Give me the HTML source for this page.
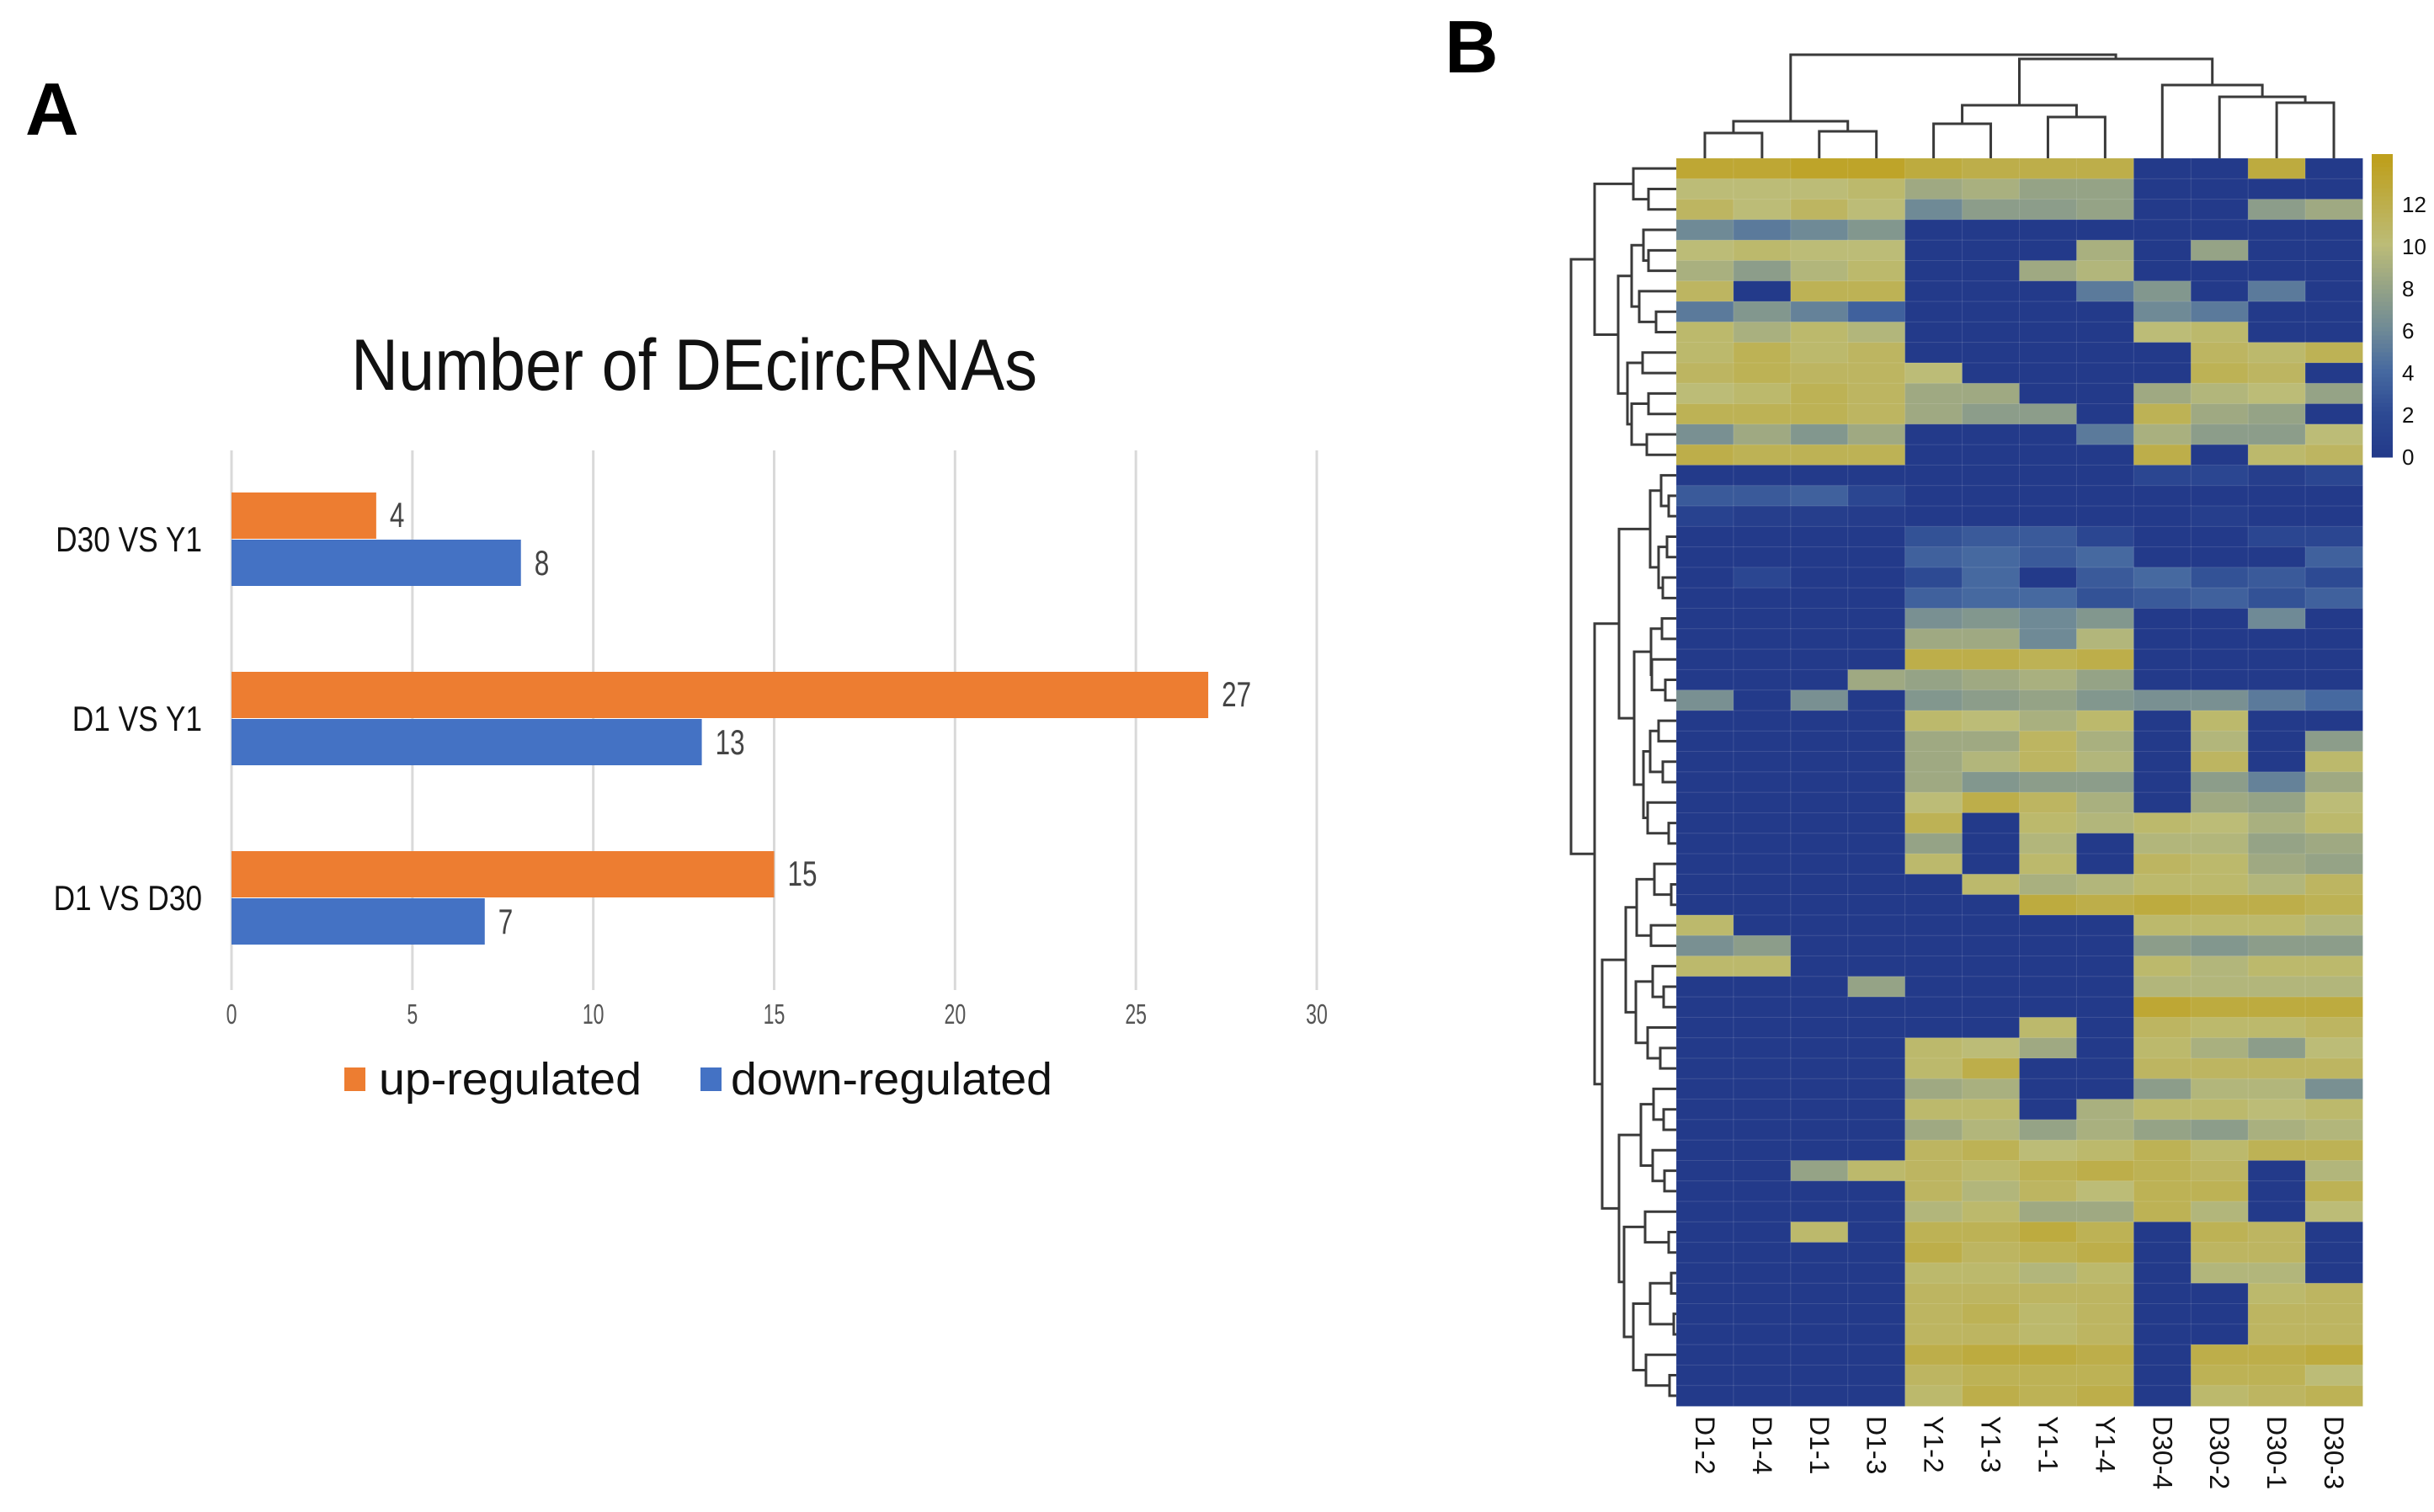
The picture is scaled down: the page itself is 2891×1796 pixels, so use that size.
<!DOCTYPE html>
<html><head><meta charset="utf-8"><style>
html,body{margin:0;padding:0;background:#fff;}
svg{display:block;font-family:"Liberation Sans",sans-serif;}
</style></head><body>
<svg id="fig" width="2891" height="1796" viewBox="0 0 2891 1796" xmlns="http://www.w3.org/2000/svg">
<rect width="2891" height="1796" fill="#fff"/>
<text x="30" y="160" font-size="88" font-weight="bold" fill="#000">A</text>
<text x="1716" y="86" font-size="88" font-weight="bold" fill="#000">B</text>
<text x="417" y="463" font-size="86" textLength="815" lengthAdjust="spacingAndGlyphs" fill="#111">Number of DEcircRNAs</text>
<g id="bars"></g>
<g id="legend">
  <rect x="409" y="1268" width="25" height="28" fill="#ed7d31"/>
  <text x="450" y="1300" font-size="54" textLength="312" lengthAdjust="spacingAndGlyphs" fill="#111">up-regulated</text>
  <rect x="832" y="1268" width="25" height="28" fill="#4472c4"/>
  <text x="868" y="1300" font-size="54" textLength="382" lengthAdjust="spacingAndGlyphs" fill="#111">down-regulated</text>
</g>
<g id="heat"></g>
<g id="rowtree"></g>
<g id="coltree"></g>
<g id="cbar"></g>
</svg>
<script>
const categories = ["D30 VS Y1", "D1 VS Y1", "D1 VS D30"];
const upValues = [4, 27, 15];
const downValues = [8, 13, 7];
const xTicks = [0, 5, 10, 15, 20, 25, 30];

const sampleLabels = ["D1-2","D1-4","D1-1","D1-3","Y1-2","Y1-3","Y1-1","Y1-4","D30-4","D30-2","D30-1","D30-3"];
const heatValues = [
[13,13,13.5,13.5,12.5,12,12,12,0,0,12.5,0],
[10,10,10,10.5,8.5,9,8,8,0,0,0,0],
[11,10,11,10,6,7.5,7.5,8,0,0,7.5,8.5],
[6,5,6,7,0,0,0,0,0,0,0,0],
[10,10.5,10,10,0,0,0,9,0,8,0,0],
[9,7.5,9.5,10.5,0,0,8.5,9.5,0,0,0,0],
[11,0,11.5,11.5,0,0,0,5,7,0,5,0],
[5,7,5.5,3.5,0,0,0,0,6,5,0,0],
[10.5,9,10.5,9.5,0,0,0,0,10,10.5,0,0],
[10.5,11.5,10.5,11,0,0,0,0,0,11,10.5,11.5],
[11,11.5,11,11,10,0,0,0,0,11.5,11,0],
[10,10.5,11.5,11,8.5,8.5,0,0,8.5,9.5,10,8],
[11.5,11.5,11.5,11,8.5,7.5,7.5,0,11.5,8.5,8,0],
[6.5,8.5,7,8.5,0,0,0,5,9,7.5,7.5,10],
[12,11.5,11.5,11.5,0,0,0,0,12,0,10.5,11],
[0,0,0,0,0,0,0,0,1.5,1.5,0.5,1.5],
[3,3,3.5,1.5,0,0,0,0,0,0,0,0],
[1,0.5,0.5,0.3,0,0,0,0,0,0.5,0,0],
[0,0,0,0,2.5,3,3,1.5,0,0,1.5,1.5],
[0,0,0,0,3.5,4,3,4,0,0,0,3.5],
[0,1.5,0,0,2,4,0,3,4,2.5,3,2],
[0,0,0,0,3.5,4,4,2.5,3,3.5,2.5,3.5],
[0,0,0,0,6.5,7,6,7,0,0,6,0],
[0,0,0,0,8.5,8.5,6,9.5,0,0,0,0],
[0,0,0,0,12,12,11.5,12,0,0,0,0],
[0,0,0,8.5,8,8.5,9,8,0,0,0,0],
[6.5,0,6.5,0,7,7.5,8,7,6.5,6.5,5,4],
[0,0,0,0,10.5,10,9,10.5,0,10.5,0,0],
[0,0,0,0,8.5,8.5,11,9,0,9.5,0,7.5],
[0,0,0,0,8.5,9.5,11,9.5,0,11,0,10.5],
[0,0,0,0,8.5,7,7.5,7.5,0,7.5,5.5,8.5],
[0,0,0,0,10,12,11,9,0,8.5,8,10],
[0,0,0,0,11.5,0,10.5,9.5,10.5,10,9,10.5],
[0,0,0,0,8,0,9.5,0,9.5,9.5,8,8.5],
[0,0,0,0,10.5,0,10.5,0,11,10.5,8.5,8],
[0,0,0,0,0,10.5,9,9.5,10.5,10.5,9.5,11],
[0,0,0,0,0,0,12.5,12,12.5,12,12,11.5],
[10.5,0,0,0,0,0,0,0,10.5,10.5,10.5,9.5],
[6.5,7.5,0,0,0,0,0,0,7.5,7,7.5,7.5],
[10.5,10.5,0,0,0,0,0,0,10.5,9.5,10.5,10.5],
[0,0,0,8,0,0,0,0,9.5,9.5,9.5,9.5],
[0,0,0,0,0,0,0,0,13,12.5,12.5,12.5],
[0,0,0,0,0,0,10.5,0,11,10.5,10.5,11],
[0,0,0,0,10.5,10,8.5,0,10.5,9,7.5,10],
[0,0,0,0,10.5,12,0,0,11,11,11,11],
[0,0,0,0,8.5,9,0,0,7.5,9.5,9.5,6.5],
[0,0,0,0,10.5,10.5,0,9,10.5,10.5,10,10.5],
[0,0,0,0,8.5,9.5,8,9,8,7.5,9,9.5],
[0,0,0,0,11,11.5,10,10.5,11.5,10.5,11.5,11.5],
[0,0,8,10.5,11,10.5,11.5,12,11.5,11,0,9.5],
[0,0,0,0,11,9.5,11,10,11.5,11.5,0,11.5],
[0,0,0,0,9.5,10.5,8.5,8.5,11.5,9.5,0,10],
[0,0,10.5,0,11.5,11.5,12.5,11.5,0,11.5,11,0],
[0,0,0,0,12,11,11.5,12,0,11,11,0],
[0,0,0,0,10.5,10.5,9.5,10.5,0,9.5,9.5,0],
[0,0,0,0,11,11,11,11,0,0,10.5,11],
[0,0,0,0,11,11.5,10.5,11,0,0,11,11],
[0,0,0,0,11,11,10.5,11,0,0,11,11],
[0,0,0,0,12,12.5,12.5,12,0,12,12,12.5],
[0,0,0,0,11,11.5,11.5,11.5,0,11.5,11.5,10],
[0,0,0,0,10.5,12,11.5,12,0,10.5,11,11.5]
];
const scaleTicks = [0, 2, 4, 6, 8, 10, 12];
const rowTree = [1866,
  [1894, [1940, 0, [1958,1,2]],
         [1922, [1938, [1952, 3, [1958,4,5]], [1947, 6, [1967,7,8]]],
                [1933, [1951,9,10], [1938, [1958,11,12], [1956,13,14]]]]],
  [1894,
    [1923, [1960, [1973,15,[1982,16,17]], [1970,[1980,18,19],[1975,20,21]]],
           [1941, [1961,[1974,22,23],[1962,24,[1978,25,26]]],
                  [1952,[1960,[1970,27,28],[1975,29,30]],[1957,31,[1982,32,33]]]]],
    [1903, [1931, [1944,[1965,34,[1985,35,36]],[1961,37,38]], [1943,[1963,39,[1976,40,41]],[1957,42,[1972,43,44]]]],
           [1923, [1949,[1964,45,[1976,46,47]],[1963,48,[1977,49,50]]],
                  [1929,[1954,51,[1982,52,53]],[1940,[1960,[1985,54,55],[1988,56,57]],[1955,58,[1983,59,60]]]]]]]
];
const colTree = [65, [144,[158,0,1],[156,2,3]], [70, [125,[147,4,5],[139,6,7]], [101, 8, [115, 9, [122,10,11]]]]];

const NS = "http://www.w3.org/2000/svg";
function mk(tag, attrs, parent){const e=document.createElementNS(NS,tag);for(const k in attrs)e.setAttribute(k,attrs[k]);parent.appendChild(e);return e;}

const bars = document.getElementById('bars');
const x0 = 275, xUnit = (1564-275)/30;
const xs = v => x0 + v*xUnit;
const groupCenters0 = 640, groupStep = 213, barH = 55;
const gy = i => groupCenters0 + i*groupStep;
xTicks.forEach(t=>{
  const l = mk('line',{x1:xs(t),x2:xs(t),y1:535,y2:1176,stroke:'#d9d9d9','stroke-width':3},bars);
  
  
  const tx = mk('text',{x:0,y:0,'font-size':33,'text-anchor':'middle',fill:'#555',transform:`translate(${xs(t)},1216) scale(0.7,1)`},bars);
  tx.textContent = t;
  
  
});
categories.forEach((c,i)=>{
  const cy = gy(i);
  const lab = mk('text',{x:0,y:0,'font-size':42,'text-anchor':'end',fill:'#111',transform:`translate(240,${cy+15}) scale(0.84,1)`},bars);
  lab.textContent = c;
  
  
  const ru = mk('rect',{x:x0,y:cy-barH,width:xs(upValues[i])-x0,height:barH,fill:'#ed7d31'},bars);
  
  
  const rd = mk('rect',{x:x0,y:cy+1,width:xs(downValues[i])-x0,height:barH,fill:'#4472c4'},bars);
  
  
  const vu = mk('text',{x:0,y:0,'font-size':42,fill:'#444',transform:`translate(${xs(upValues[i])+16},${cy-14}) scale(0.75,1)`},bars);
  vu.textContent = upValues[i];
  
  
  const vd = mk('text',{x:0,y:0,'font-size':42,fill:'#444',transform:`translate(${xs(downValues[i])+16},${cy+43}) scale(0.75,1)`},bars);
  vd.textContent = downValues[i];
  
  
});

const stops = [[0,[35,58,138]],[2,[45,74,147]],[4,[70,105,160]],[6,[111,138,150]],[8,[149,163,134]],[10,[188,188,119]],[12,[189,174,74]],[14,[190,160,30]]];
function cmap(v){
  if(v<=stops[0][0]) return `rgb(${stops[0][1]})`;
  for(let i=1;i<stops.length;i++){
    if(v<=stops[i][0]){const a=stops[i-1],b=stops[i];const t=(v-a[0])/(b[0]-a[0]);
      const c=a[1].map((x,k)=>Math.round(x+(b[1][k]-x)*t));return `rgb(${c})`;}
  }
  return `rgb(${stops[stops.length-1][1]})`;
}
const heat = document.getElementById('heat');
const hx0=1991, hx1=2806, hy0=188, hy1=1670;
const nR = heatValues.length, nC = sampleLabels.length;
const cw=(hx1-hx0)/nC, rh=(hy1-hy0)/nR;
const colX = j => hx0 + j*cw;
const rowY = i => hy0 + i*rh;
heatValues.forEach((row,i)=>row.forEach((v,j)=>{
  const r = mk('rect',{x:colX(j),y:rowY(i),width:cw+0.5,height:rh+0.5,fill:cmap(v),stroke:'rgba(255,255,255,0.12)','stroke-width':1},heat);
  
  
}));
sampleLabels.forEach((s,j)=>{
  const t = mk('text',{x:0,y:0,'font-size':32,fill:'#111',transform:`translate(${colX(j)+cw/2-11},1682) rotate(90)`},heat);
  t.textContent = s;
  
  
});

const rt = document.getElementById('rowtree');
function drawRow(n){
  if(typeof n==='number') return {x:hx0, y:rowY(n)+rh/2};
  const a=drawRow(n[1]), b=drawRow(n[2]), h=n[0];
  const p = mk('path',{d:`M${a.x},${a.y}H${h}V${b.y}H${b.x}`,fill:'none',stroke:'#3a3a3a','stroke-width':3},rt);
  
  
  return {x:h, y:(a.y+b.y)/2};
}
drawRow(rowTree);
const ct = document.getElementById('coltree');
function drawCol(n){
  if(typeof n==='number') return {x:colX(n)+cw/2, y:hy0};
  const a=drawCol(n[1]), b=drawCol(n[2]), h=n[0];
  const p = mk('path',{d:`M${a.x},${a.y}V${h}H${b.x}V${b.y}`,fill:'none',stroke:'#3a3a3a','stroke-width':3},ct);
  
  
  return {x:(a.x+b.x)/2, y:h};
}
drawCol(colTree);

const cb = document.getElementById('cbar');
const cby = v => 543 - v*25;
for(let v=0; v<14.2; v+=0.2){
  const r = mk('rect',{x:2817,y:cby(v+0.2),width:25,height:5.5,fill:cmap(v)},cb);
  
  
}
scaleTicks.forEach(t=>{
  const tx = mk('text',{x:2853,y:cby(t)+9,'font-size':26,fill:'#111'},cb);
  tx.textContent = t;
  
  
});
</script>
</body></html>
